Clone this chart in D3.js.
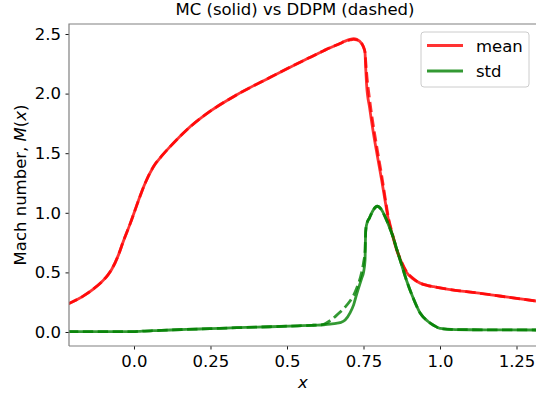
<!DOCTYPE html>
<html><head><meta charset="utf-8">
<script src="https://cdn.jsdelivr.net/npm/d3@7"></script>
<style>body{margin:0;background:#fff}svg{display:block}text{font-family:"DejaVu Sans",sans-serif}</style>
</head><body><svg id="c" width="536" height="394"></svg>
<script>
const xs = [-0.216,-0.17,-0.133,-0.1,-0.085,-0.073,-0.051,-0.035,-0.013,0.003,0.02,0.035,0.063,0.09,0.118,0.172,0.248,0.336,0.444,0.548,0.58,0.6,0.62,0.641,0.66,0.673,0.69,0.706,0.718,0.728,0.744,0.75,0.755,0.757,0.76,0.77,0.781,0.795,0.809,0.82,0.83,0.845,0.858,0.875,0.891,0.91,0.935,0.96,0.98,1.0,1.05,1.1,1.2,1.314];
const mcMean = [0.235,0.295,0.36,0.435,0.48,0.525,0.645,0.76,0.905,1.02,1.14,1.24,1.385,1.475,1.555,1.695,1.85,1.99,2.135,2.27,2.31,2.335,2.36,2.385,2.405,2.42,2.44,2.455,2.46,2.455,2.42,2.39,2.34,2.22,2.08,1.88,1.69,1.48,1.28,1.11,0.96,0.81,0.69,0.58,0.50,0.45,0.41,0.39,0.38,0.37,0.35,0.335,0.30,0.26];
const ddpmMean = [0.235,0.295,0.36,0.435,0.48,0.525,0.645,0.76,0.905,1.02,1.14,1.24,1.385,1.475,1.555,1.695,1.85,1.99,2.135,2.27,2.31,2.335,2.36,2.385,2.405,2.42,2.44,2.45,2.455,2.45,2.42,2.39,2.35,2.28,2.18,1.95,1.75,1.53,1.32,1.14,0.98,0.82,0.70,0.585,0.505,0.455,0.41,0.39,0.38,0.37,0.35,0.335,0.30,0.26];
const mcStd = [0.003,0.003,0.003,0.003,0.003,0.003,0.003,0.003,0.003,0.004,0.006,0.008,0.011,0.014,0.017,0.022,0.028,0.036,0.044,0.053,0.056,0.058,0.061,0.066,0.073,0.078,0.10,0.16,0.23,0.32,0.45,0.50,0.60,0.84,0.90,0.96,1.02,1.055,1.025,0.97,0.91,0.81,0.70,0.56,0.43,0.30,0.16,0.09,0.055,0.03,0.02,0.019,0.018,0.017];
const ddpmStd = [0.003,0.003,0.003,0.003,0.003,0.003,0.003,0.003,0.003,0.004,0.006,0.008,0.011,0.014,0.017,0.022,0.028,0.036,0.044,0.053,0.056,0.058,0.065,0.095,0.135,0.165,0.21,0.26,0.31,0.37,0.50,0.58,0.68,0.84,0.90,0.96,1.02,1.055,1.025,0.97,0.91,0.81,0.70,0.56,0.43,0.30,0.16,0.09,0.055,0.03,0.02,0.019,0.018,0.017];
const xTicks = [0, 0.25, 0.5, 0.75, 1.0, 1.25];
const xTickLabels = ["0.0","0.25","0.5","0.75","1.0","1.25"];
const yTicks = [0, 0.5, 1.0, 1.5, 2.0, 2.5];
const yTickLabels = ["0.0","0.5","1.0","1.5","2.0","2.5"];
const legendLabels = ["mean","std"];

const FS = 16.5;
const svg = d3.select("#c");
const L=69, R=536, T=24, B=346;
const x = d3.scaleLinear().domain([-0.2124, 1.3137]).range([L, R]);
const y = d3.scaleLinear().domain([-0.1174, 2.5839]).range([B, T]);
const RED="rgba(255,0,0,0.8)", GREEN="rgba(0,128,0,0.8)";

svg.append("clipPath").attr("id","clip").append("rect").attr("x",L).attr("y",T).attr("width",R-L+5).attr("height",B-T);
const g = svg.append("g").attr("clip-path","url(#clip)");
const line = ys => d3.line().x((d,i)=>x(xs[i])).y(d=>y(d)).curve(d3.curveMonotoneX)(ys);
const series = [
  [mcMean, RED, null],
  [ddpmMean, RED, "10.4,4.5"],
  [mcStd, GREEN, null],
  [ddpmStd, GREEN, "10.4,4.5"]
];
series.forEach(([ys,c,dash])=>{
  g.append("path").attr("d",line(ys)).attr("fill","none").attr("stroke",c)
   .attr("stroke-width",2.8).attr("stroke-dasharray",dash).attr("stroke-linejoin","round");
});

// axes
const xa = svg.append("g").attr("transform",`translate(0,${B})`)
  .call(d3.axisBottom(x).tickValues(xTicks).tickFormat((d,i)=>xTickLabels[i]).tickSize(3.5).tickPadding(6));
const ya = svg.append("g").attr("transform",`translate(${L},0)`)
  .call(d3.axisLeft(y).tickValues(yTicks).tickFormat((d,i)=>yTickLabels[i]).tickSize(3.5).tickPadding(4.5));
[xa,ya].forEach(a=>{
  a.select(".domain").remove();
  a.selectAll(".tick line").attr("stroke","#000").attr("stroke-width",0.9);
  a.selectAll(".tick text").attr("font-size",FS).attr("fill","#000").attr("font-family","DejaVu Sans");
});
// spines
svg.append("path").attr("d",`M${L},${B}V${T}H${R+2}M${L},${B}H${R+2}`).attr("fill","none").attr("stroke","#808080").attr("stroke-width",1.2);

// labels
svg.append("text").attr("x",295).attr("y",15).attr("text-anchor","middle").attr("font-size",FS).text("MC (solid) vs DDPM (dashed)");
svg.append("text").attr("x",303).attr("y",388).attr("text-anchor","middle").attr("font-size",FS).attr("font-style","italic").text("x");
const yl = svg.append("text").attr("transform","translate(26,185) rotate(-90)").attr("text-anchor","middle").attr("font-size",FS);
yl.append("tspan").text("Mach number, ");
yl.append("tspan").attr("font-style","italic").text("M");
yl.append("tspan").text("(");
yl.append("tspan").attr("font-style","italic").text("x");
yl.append("tspan").text(")");

// legend
const lg = svg.append("g");
lg.append("rect").attr("x",421).attr("y",32).attr("width",108).attr("height",55).attr("rx",3)
  .attr("fill","rgba(255,255,255,0.8)").attr("stroke","#cccccc").attr("stroke-width",1);
[RED,GREEN].forEach((c,i)=>{
  const yy = 45.5 + i*25.5;
  lg.append("line").attr("x1",427).attr("x2",463).attr("y1",yy).attr("y2",yy).attr("stroke",c).attr("stroke-width",2.8);
  lg.append("text").attr("x",476).attr("y",yy+6).attr("font-size",FS).text(legendLabels[i]);
});
</script></body></html>
